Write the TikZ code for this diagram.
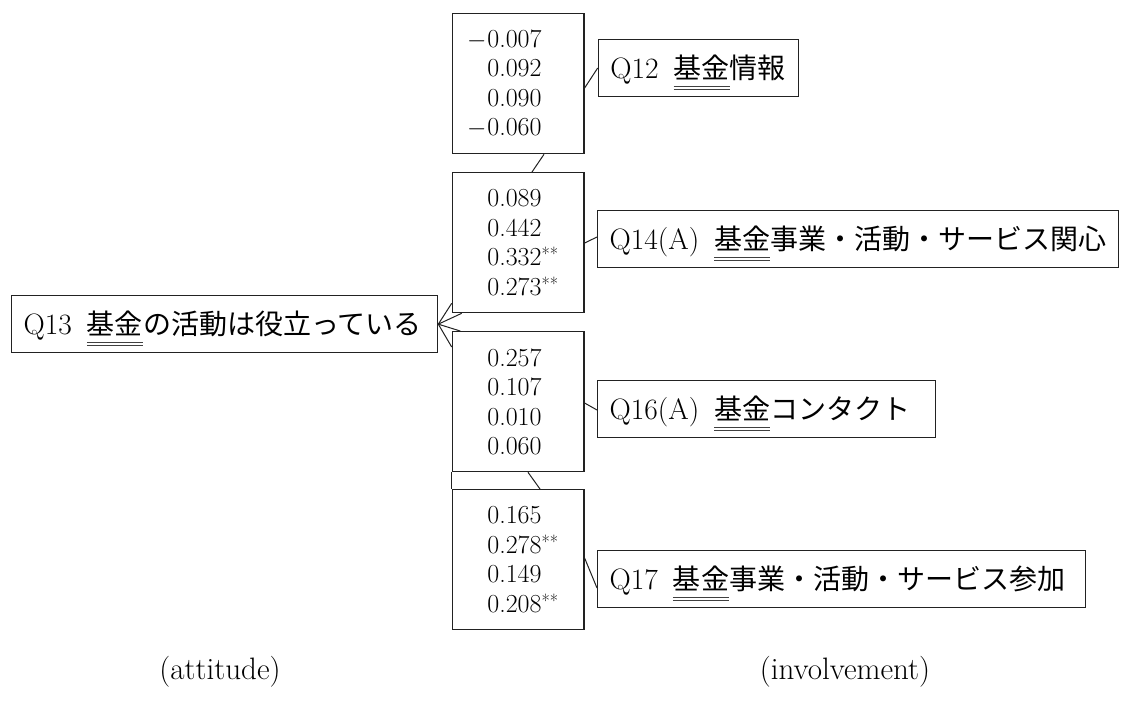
\documentclass[tikz,border=0pt]{standalone}
\usepackage{fontspec}
\newfontfamily\jp[Scale=0.95]{Noto Sans CJK JP}
\usetikzlibrary{calc}
\definecolor{ink}{HTML}{222222}
\newcommand\dul[1]{\setbox0\hbox{#1}\rlap{\copy0}\smash{\rlap{\raisebox{-8.3pt}{\color{black!75}\rule{\wd0}{1pt}}}\raisebox{-11.6pt}{\color{black!75}\rule{\wd0}{1pt}}}}
\newcommand\mn{\leavevmode\llap{$-$\kern1pt}}
\newcommand\stars{\raisebox{5pt}{\fontsize{18}{18}\selectfont **}}
\begin{document}
\begin{tikzpicture}[x=1pt,y=-1pt,
  qbox/.style={draw=ink, line width=1.3pt, anchor=north west, minimum height=57pt,
    inner xsep=12pt, inner ysep=0pt, text height=21pt, text depth=0.5pt,
    align=left, font=\fontsize{29.5}{34}\selectfont},
  nbox/.style={draw=ink, line width=1.3pt, anchor=north west, minimum height=140pt,
    text width=61.6pt, inner xsep=35pt, inner ysep=0pt, align=left,
    font=\fontsize{26}{29.5}\selectfont},
  conn/.style={draw=ink, line width=1pt},
  edge/.style={draw=ink, line width=1.3pt},
  lab/.style={font=\fontsize{31}{36}\selectfont, inner sep=0pt}]
\useasboundingbox[fill=white] (0,0) rectangle (1121,702);

% number boxes
\node[nbox] (b1) at (451.7,13) {\mn0.007\\0.092\\0.090\\\mn0.060};
\node[nbox] (b2) at (451.7,172) {0.089\\0.442\\0.332\stars\\0.273\stars};
\node[nbox] (b3) at (451.7,331) {0.257\\0.107\\0.010\\0.060};
\node[nbox] (b4) at (451.7,489) {0.165\\0.278\stars\\0.149\\0.208\stars};

% question boxes
\node[qbox, text width=402pt] (q13) at (11,295) {Q13\kern15pt{\jp\dul{基金}の活動は役立っている}};
\node[qbox, text width=176.3pt] (q12) at (597.7,39) {Q12\kern15pt{\jp\dul{基金}情報}};
\node[qbox, text width=497pt] (q14) at (597,210) {Q14(A)\kern15pt{\jp\dul{基金}事業・活動・サービス関心}};
\node[qbox, text width=314pt] (q16) at (597,380) {Q16(A)\kern15pt{\jp\dul{基金}コンタクト}};
\node[qbox, text width=464pt] (q17) at (597,550) {Q17\kern15pt{\jp\dul{基金}事業・活動・サービス参加}};

% connectors
\draw[conn] ($(b1.north east)+(0,75)$) -- ($(q12.north west)+(0,29)$);
\draw[conn] ($(b1.south west)+(92.3,0)$) -- ($(b2.north west)+(80.3,0)$);
\draw[conn] ($(b2.north east)+(0,71)$) -- ($(q14.north west)+(0,27)$);
\draw[conn] ($(b3.north east)+(0,72)$) -- ($(q16.north west)+(0,30)$);
\draw[conn] ($(b3.south west)+(76.3,0)$) -- ($(b4.north west)+(88.3,0)$);
\draw[conn] ($(b4.north east)+(0,69)$) -- ($(q17.north west)+(0,38)$);
\draw[edge] (b3.south west) -- (b4.north west);

% fan into Q13
\draw[conn] (q13.east) -- ($(b2.south west)+(0,-10)$);
\draw[conn] (q13.east) -- ($(b2.south west)+(10,0)$);
\draw[conn] (q13.east) -- ($(b3.north west)+(8.5,0)$);
\draw[conn] (q13.east) -- ($(b3.north west)+(0,16)$);

% bottom labels
\node[lab] (att) at (220,672) {(attitude)};
\node[lab] (inv) at (845,672) {(involvement)};
\end{tikzpicture}
\end{document}
